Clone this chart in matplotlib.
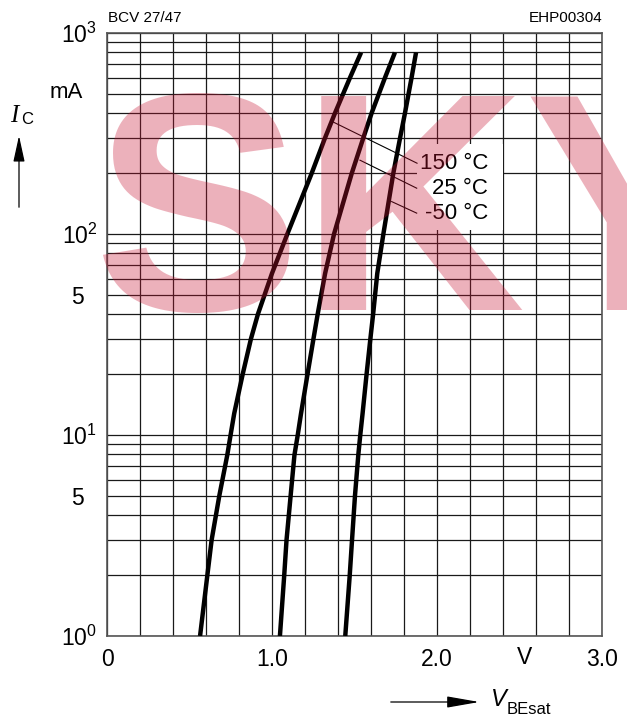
import numpy as np
import matplotlib
matplotlib.use('Agg')
import matplotlib.pyplot as plt
from matplotlib.patches import Rectangle

plt.rcParams['font.family'] = ['Liberation Sans', 'DejaVu Sans']
plt.rcParams['mathtext.fontset'] = 'custom'
plt.rcParams['mathtext.rm'] = 'Liberation Sans'
plt.rcParams['mathtext.it'] = 'Liberation Sans:italic'

# ---- data (I_C in mA, V_BEsat in V) ----
i_c = [1, 2, 3, 5, 7.95, 10, 12.8, 20, 30, 40, 63.7, 100, 200, 300, 400, 600, 800]

v_150 = [0.564, 0.608, 0.634, 0.681, 0.729, 0.749, 0.771, 0.822, 0.872, 0.915,
         1.0, 1.093, 1.24, 1.321, 1.382, 1.473, 1.54]
v_25 = [1.048, 1.074, 1.088, 1.113, 1.136, 1.156, 1.176, 1.215, 1.251, 1.277,
        1.322, 1.376, 1.483, 1.553, 1.604, 1.685, 1.745]
v_m50 = [1.444, 1.471, 1.485, 1.503, 1.523, 1.535, 1.549, 1.573, 1.596, 1.613,
         1.638, 1.675, 1.735, 1.776, 1.806, 1.846, 1.873]

temp_labels = ['150 °C', '25 °C', '-50 °C']
# leader lines: (start V, start I, end V, end I)
leaders = [(1.37, 361, 1.879, 225),
           (1.533, 233, 1.877, 169),
           (1.725, 145, 1.877, 127)]
label_y = [225, 169, 127]

ytick_vals = [1, 5, 10, 50, 100, 1000]
ytick_text = ['$10^0$', '5  ', '$10^1$', '5  ', '$10^2$', '$10^3$']
xtick_vals = [0, 1, 2, 3]
xtick_text = ['0', '1.0', '2.0', '3.0']

fig = plt.figure(figsize=(6.27, 7.18), dpi=100)
ax = fig.add_axes([107/627, 1 - 636/718, 495/627, 603/718])

ax.set_yscale('log')
ax.set_xlim(0, 3.0)
ax.set_ylim(1, 1000)
ax.set_axisbelow(True)

# grid
ax.set_xticks(np.arange(0, 3.01, 0.2), minor=True)
ax.set_xticks(xtick_vals)
ax.set_xticklabels(xtick_text, fontsize=16.5)
ax.yaxis.set_minor_locator(matplotlib.ticker.LogLocator(base=10, subs=np.arange(2, 10)))
ax.yaxis.set_minor_formatter(matplotlib.ticker.NullFormatter())
ax.set_yticks(ytick_vals)
ax.set_yticklabels(ytick_text, fontsize=16.5)
ax.tick_params(which='both', length=0)
ax.tick_params(axis='y', pad=7)
ax.tick_params(axis='x', pad=9)
ax.grid(True, which='both', color='#1a1a1a', linewidth=0.9)
for s in ax.spines.values():
    s.set_color('#555555')
    s.set_linewidth(1.2)

# white field behind the temperature labels
ax.add_patch(Rectangle((1.879, 105), 2.4 - 1.879, 280 - 105,
                       facecolor='white', edgecolor='none', zorder=3))

# curves
for v in [v_150, v_25, v_m50]:
    ax.plot(v, i_c, color='black', linewidth=3.2, solid_capstyle='butt',
            solid_joinstyle='round', zorder=4)

# leader lines and labels
for (x0, y0, x1, y1), txt, ly in zip(leaders, temp_labels, label_y):
    ax.plot([x0, x1], [y0, y1], color='black', linewidth=0.8, zorder=5)
    ax.text(2.31, ly, txt, fontsize=16, ha='right', va='center', zorder=6)

# unit on the x axis
ax.text(2.53, -0.036, 'V', transform=ax.get_xaxis_transform(),
        fontsize=16.5, ha='center', va='center')

# header texts
fig.text(108/627, 1 - 18/718, 'BCV 27/47', fontsize=11, ha='left', va='center')
fig.text(602/627, 1 - 18/718, 'EHP00304', fontsize=11, ha='right', va='center')

# y axis title
fig.text(66/627, 1 - 93/718, 'mA', fontsize=16, ha='center', va='center')
fig.text(14/627, 1 - 116/718, 'I', fontsize=18, family='Liberation Serif',
         style='italic', ha='center', va='center')
fig.text(21/627, 1 - 120/718, 'C', fontsize=12, ha='left', va='center')
ax.annotate('', xy=(19/627, 1 - 133/718), xytext=(19/627, 1 - 210/718),
            xycoords='figure fraction', textcoords='figure fraction',
            arrowprops=dict(arrowstyle='-|>,head_length=1.6,head_width=0.35',
                            color='black', lw=0.9))

# x axis title
ax.annotate('', xy=(482/627, 1 - 702/718), xytext=(388/627, 1 - 702/718),
            xycoords='figure fraction', textcoords='figure fraction',
            arrowprops=dict(arrowstyle='-|>,head_length=2.0,head_width=0.35',
                            color='black', lw=0.9))
fig.text(491/627, 1 - 699/718, 'V', fontsize=17, style='italic',
         ha='left', va='center')
fig.text(507/627, 1 - 709/718, 'BEsat', fontsize=12, ha='left', va='center')

# watermark
fig.text(93/627, 1 - 310/718, 'SKY', fontsize=224, fontweight='bold',
         color=(0.78, 0.08, 0.2), alpha=0.33, ha='left', va='baseline',
         zorder=10)

plt.savefig('out.png', dpi=100)
